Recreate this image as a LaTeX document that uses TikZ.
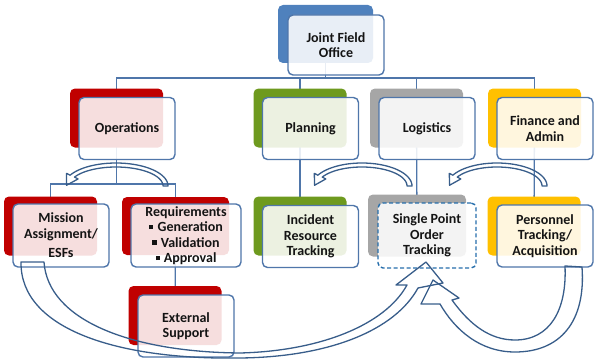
\documentclass[tikz,border=0pt]{standalone}
\usepackage{fontspec}
\setmainfont{Carlito}
\usetikzlibrary{calc}
\definecolor{cblue}{RGB}{79,129,189}
\definecolor{cred}{RGB}{192,0,0}
\definecolor{cgreen}{RGB}{110,154,30}
\definecolor{cgray}{RGB}{166,166,166}
\definecolor{corange}{RGB}{255,192,0}
\definecolor{frame}{RGB}{79,118,170}
\definecolor{arrowc}{RGB}{56,93,138}
\definecolor{dashc}{RGB}{38,110,172}
\definecolor{textc}{RGB}{20,20,20}
\newcommand\lbl{\fontsize{14}{15.5}\selectfont\bfseries}
\newcommand\bulsq{\rule[0.17em]{0.3em}{0.3em}\hspace{0.3em}}
\newcommand\arcarrow[6]{%
 \draw[curvearrow] plot[domain=0:#5,samples=40] ({#1+#3*cos(\x)},{#2-#4*sin(\x)})
  -- ({#1+(#3+4)*cos(#5)},{#2-(#4+4)*sin(#5)})
  -- ({#1+(#3-2.5)*cos(#6)},{#2-(#4-2)*sin(#6)})
  -- ({#1+(#3-9)*cos(#5)},{#2-(#4-8)*sin(#5)})
  -- plot[domain=#5:0,samples=40] ({#1+(#3-5)*cos(\x)},{#2-(#4-4)*sin(\x)}) -- cycle;}
\pgfdeclarelayer{connlayer}
\pgfsetlayers{connlayer,main}
\tikzset{
  back/.style={rounded corners=5pt, minimum width=93pt, minimum height=59pt, inner sep=0pt, fill=#1},
  front/.style={draw=frame, line width=1.4pt, rounded corners=5pt, fill=white, fill opacity=0.87,
    text opacity=1, minimum width=96pt, minimum height=62pt, inner sep=1pt, align=center,
    font=\lbl, text=textc},
  conn/.style={draw=frame, line width=1.3pt},
  curvearrow/.style={draw=arrowc, line width=1.3pt, line join=round},
}
\begin{document}
\begin{tikzpicture}[x=1pt,y=-1pt]
\useasboundingbox (0,0) rectangle (594,361);
% back shapes
\node[back=cblue, minimum width=95pt, minimum height=58pt] (jfoB) at (325.5,34) {};
\node[back=cred] (opsB) at (116.5,118) {};
\node[back=cgreen] (planB) at (300,118) {};
\node[back=cgray] (logB) at (416.5,118) {};
\node[back=corange] (finB) at (534.5,118) {};
\node[back=cred] (misB) at (50.5,226) {};
\node[back=cred, minimum width=107pt, minimum height=58pt] (reqB) at (175.5,226) {};
\node[back=cgreen] (incB) at (300,226) {};
\node[back=cgray, minimum width=98pt, minimum height=62pt] (spotB) at (417,225.5) {};
\node[back=corange] (perB) at (534,226) {};
\node[back=cred] (extB) at (175,315.5) {};
% front shapes
\node[front, minimum height=60pt] (jfo) at ($(jfoB)+(10.5,11)$) {Joint Field\\Office};
\node[front] (ops) at ($(opsB)+(10.5,10.5)$) {Operations};
\node[front] (plan) at ($(planB)+(10.5,10.5)$) {Planning};
\node[front] (log) at ($(logB)+(10.5,10.5)$) {Logistics};
\node[front] (fin) at ($(finB)+(10.5,10.5)$) {Finance and\\Admin};
\node[front, minimum height=63pt] (mis) at ($(misB)+(10.5,9.5)$) {Mission\\Assignment/\\[4pt]ESFs};
\node[front, minimum width=110pt, minimum height=63pt] (req) at ($(reqB)+(10.5,9.5)$)
  {Requirements\\\bulsq Generation\\\bulsq Validation\\\bulsq Approval};
\node[front] (inc) at ($(incB)+(10.5,10.5)$) {Incident\\Resource\\Tracking};
\node[front, draw=dashc, dash pattern=on 4pt off 2.5pt, minimum width=98pt, minimum height=65pt] (spot)
  at ($(spotB)+(10,10)$) {Single Point\\Order\\Tracking};
\node[front] (per) at ($(perB)+(11,10)$) {Personnel\\Tracking/\\Acquisition};
\node[front] (ext) at ($(extB)+(11,10.5)$) {External\\Support};
% connectors
\begin{pgfonlayer}{connlayer}
\coordinate (bus) at ($(jfoB)+(0,44)$);
\coordinate (bus2) at ($(opsB)+(0,66)$);
\draw[conn] (jfoB.center) -- (bus);
\draw[conn] (opsB.center) |- (bus) -| (finB.center);
\draw[conn] (planB.center) -- (planB.center |- bus);
\draw[conn] (logB.center) -- (logB.center |- bus);
\draw[conn] (opsB.center) -- (bus2);
\draw[conn] (misB.center) |- (bus2) -| (reqB.center);
\draw[conn] (planB.center) -- (incB.center);
\draw[conn] (logB.center) -- (spotB.center);
\draw[conn] (finB.center) -- (perB.center);
\draw[conn] (reqB.center) -- (extB.center);
\end{pgfonlayer}
% small curved arrows
\arcarrow{116}{186}{52}{23}{152}{178}
\arcarrow{362}{186}{50}{23}{152}{178}
\arcarrow{497}{186}{50}{23}{152}{178}
% big arrow from Mission to Single Point
\draw[curvearrow] (21,262) .. controls (20,330) and (120,360) .. (240,358)
  .. controls (330,357) and (395,330) .. (418,288) -- (443,283) -- (426,262) -- (396,285) -- (407,285)
  .. controls (385,325) and (320,351) .. (240,353)
  .. controls (130,352) and (48,320) .. (44,262) -- cycle;
% big arrow from Personnel to Single Point
\draw[curvearrow] (582,267) .. controls (586,322) and (560,352) .. (515,352)
  .. controls (480,352) and (455,330) .. (440,304) -- (421,304) -- (433,280) -- (459,298) -- (452,300)
  .. controls (470,325) and (490,340) .. (515,340)
  .. controls (550,340) and (567,310) .. (565,266) -- cycle;
\end{tikzpicture}
\end{document}
